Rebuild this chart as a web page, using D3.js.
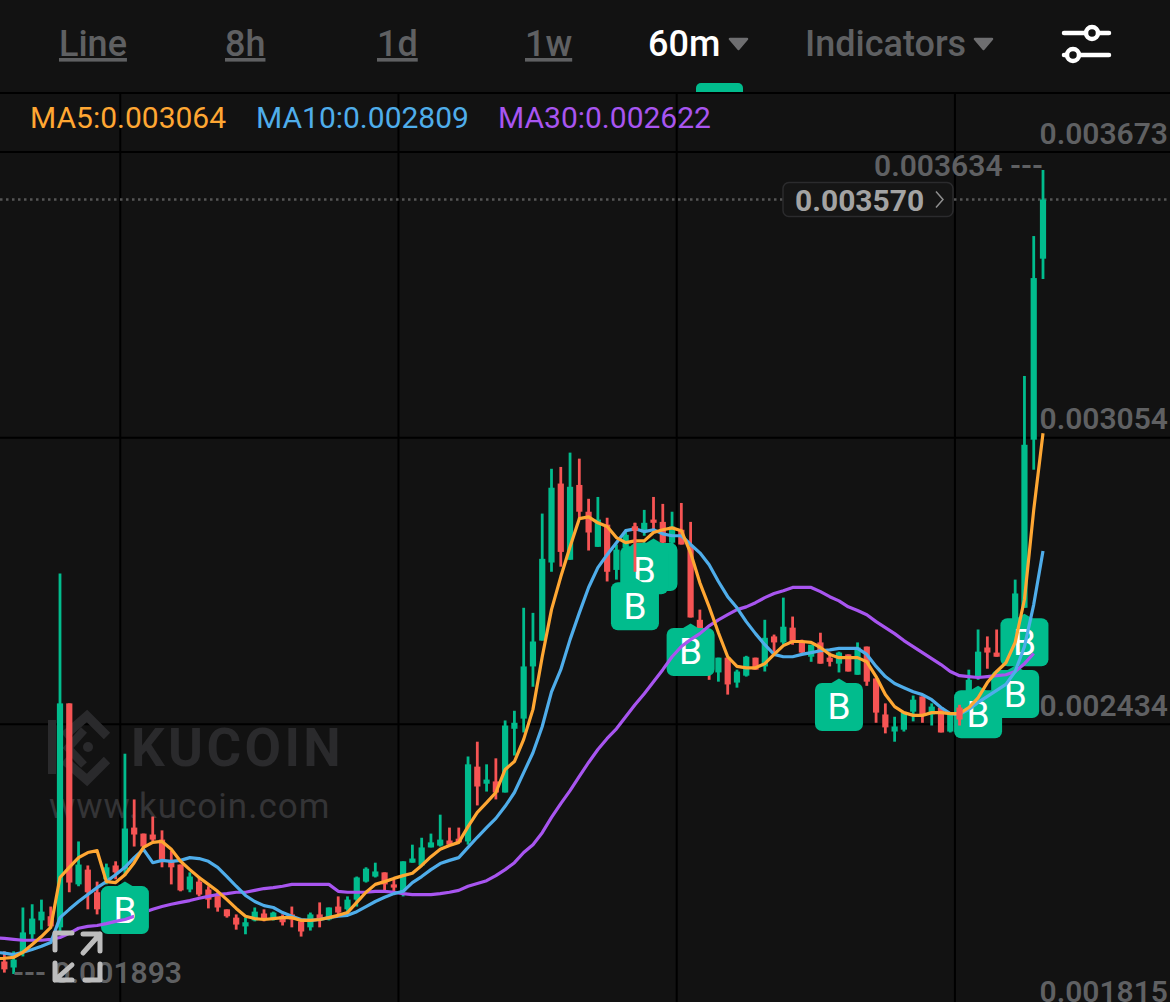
<!DOCTYPE html>
<html lang="en">
<head>
  <meta charset="UTF-8">
  <title>KuCoin 60m chart</title>
  <script src="https://d3js.org/d3.v7.min.js"></script>
  <style>
    html, body { margin: 0; padding: 0; background: #121212; }
    svg { display: block; font-family: Roboto, sans-serif; }
    .domain { display: none; }
  </style>
</head>
<body>
  <div id="chart"></div>
  <script>
    // prices are in millionths, 2434 = 0.002434
    const opens = [1920,1907,1939,1979,2009,2018,1994,2479,2087,2119,2070,2098,2128,2119,2210,2197,2195,2184,2137,2130,2076,2093,2076,2065,2033,2015,1996,2009,2024,2013,2018,2022,2007,1994,2022,2011,2039,2033,2054,2093,2104,2113,2087,2072,2134,2128,2167,2171,2182,2186,2180,2342,2305,2310,2286,2424,2446,2559,2615,2784,2955,2790,2952,2894,2818,2866,2768,2816,2862,2849,2877,2872,2827,2855,2818,2660,2595,2546,2578,2524,2539,2578,2559,2624,2611,2643,2613,2580,2611,2578,2565,2585,2541,2602,2533,2455,2418,2422,2461,2494,2455,2470,2418,2470,2487,2537,2600,2589,2595,2617,2686,3050,3442];
    const highs = [1942,1942,2037,2044,2054,2039,2760,2479,2180,2128,2093,2132,2137,2370,2271,2197,2234,2204,2160,2130,2113,2104,2083,2070,2033,2022,2015,2037,2033,2028,2022,2039,2007,2026,2048,2037,2061,2061,2104,2124,2134,2113,2098,2137,2173,2188,2197,2238,2210,2210,2364,2396,2347,2360,2442,2463,2686,2675,2890,2987,2991,3022,3009,2922,2926,2881,2823,2855,2870,2898,2926,2911,2894,2913,2872,2682,2617,2578,2578,2552,2582,2578,2660,2628,2708,2667,2617,2606,2632,2589,2591,2585,2611,2602,2533,2479,2450,2459,2496,2494,2479,2470,2459,2476,2552,2639,2624,2639,2656,2747,3188,3491,3634];
    const lows = [1896,1893,1931,1968,1989,1992,1985,2070,2083,2033,2022,2087,2098,2106,2169,2163,2180,2124,2087,2072,2070,2061,2035,2028,2015,1989,1979,2007,2007,2009,1998,1994,1974,1987,1994,2009,2018,2022,2039,2091,2102,2072,2070,2061,2134,2126,2167,2169,2171,2178,2173,2258,2288,2271,2286,2366,2416,2515,2615,2764,2775,2790,2877,2810,2818,2743,2747,2790,2764,2842,2849,2818,2823,2823,2665,2574,2530,2526,2498,2513,2537,2552,2548,2585,2606,2606,2587,2569,2565,2559,2546,2548,2541,2517,2437,2414,2396,2418,2440,2437,2431,2416,2416,2431,2476,2530,2554,2580,2574,2574,2686,2985,3398];
    const closes = [1903,1924,1983,2013,2028,1996,2479,2091,2130,2070,2033,2124,2113,2208,2195,2169,2184,2141,2124,2074,2104,2065,2054,2037,2018,2000,2005,2028,2011,2026,2005,2011,1985,2022,2011,2037,2026,2054,2102,2121,2115,2087,2080,2137,2143,2167,2178,2184,2173,2178,2347,2299,2314,2286,2431,2437,2559,2613,2792,2946,2807,2948,2894,2849,2877,2764,2812,2844,2853,2870,2870,2827,2862,2823,2665,2595,2548,2578,2520,2548,2580,2552,2621,2611,2645,2611,2589,2606,2565,2569,2589,2548,2600,2526,2459,2427,2429,2459,2487,2455,2472,2416,2455,2444,2530,2591,2589,2580,2639,2717,3039,3400,3570];

    // the MA lines start one candle left of the visible ones
    const ma5 = [1926,1927,1929,1940,1957,1974,1994,2102,2124,2145,2156,2160,2093,2091,2108,2134,2167,2178,2180,2163,2137,2119,2102,2087,2072,2054,2035,2018,2013,2011,2013,2015,2015,2009,2009,2011,2015,2020,2026,2048,2070,2087,2093,2100,2106,2111,2128,2147,2163,2171,2178,2212,2243,2264,2286,2336,2353,2401,2466,2580,2682,2753,2818,2879,2883,2870,2862,2838,2827,2831,2831,2849,2855,2859,2853,2805,2740,2688,2632,2580,2559,2556,2556,2565,2585,2604,2613,2613,2611,2600,2585,2578,2578,2578,2569,2537,2498,2472,2459,2453,2453,2459,2459,2457,2457,2470,2491,2524,2548,2567,2611,2704,2898,3064];
    const ma10 = [1940,1938,1935,1940,1946,1953,1961,2015,2033,2050,2065,2080,2093,2108,2124,2145,2163,2134,2139,2137,2139,2145,2143,2137,2124,2104,2083,2063,2050,2041,2037,2026,2018,2011,2009,2011,2015,2018,2020,2028,2039,2050,2059,2067,2072,2091,2104,2119,2132,2139,2145,2167,2189,2210,2230,2256,2286,2329,2372,2429,2504,2552,2617,2675,2730,2773,2801,2827,2853,2857,2851,2855,2846,2842,2842,2823,2805,2779,2743,2710,2686,2656,2630,2606,2585,2580,2580,2585,2589,2593,2595,2598,2598,2598,2585,2559,2537,2522,2513,2504,2498,2487,2470,2457,2455,2466,2481,2494,2507,2520,2548,2602,2693,2809];
    const ma30 = [1971,1970,1968,1966,1966,1966,1968,1972,1981,1992,1996,1998,2002,2007,2011,2018,2026,2033,2039,2044,2048,2052,2057,2061,2065,2067,2070,2070,2074,2078,2080,2083,2087,2087,2087,2087,2087,2072,2070,2070,2070,2072,2072,2070,2067,2065,2065,2065,2067,2070,2074,2083,2089,2095,2106,2119,2134,2156,2173,2199,2232,2262,2290,2321,2351,2379,2403,2424,2450,2476,2500,2526,2552,2580,2602,2617,2630,2647,2660,2671,2682,2688,2697,2708,2717,2723,2730,2730,2730,2721,2710,2701,2688,2680,2671,2656,2643,2630,2615,2602,2589,2576,2563,2548,2539,2537,2535,2537,2539,2541,2548,2565,2587];

    const priceTicks = [3673, 3054, 2434, 1815];
    const priceTickLabels = ["0.003673", "0.003054", "0.002434", "0.001815"];
    const timeGridIdx = [12.5, 42.5, 72.5, 102.5];

    const buyMarkers = [13, 68, 69, 70, 74, 90, 105, 109, 110];
    const candlesOverMarkers = [68, 103];

    const tabLabels = ["Line", "8h", "1d", "1w"];
    const tabStarts = [59, 225, 377, 525];
    const legendLabels = ["MA5:0.003064", "MA10:0.002809", "MA30:0.002622"];
    const legendStarts = [30, 256, 498];
    const lastPrice = 3570;

    const UP = "#01bc8d", DOWN = "#f65454", GREY = "#5f6062", BG = "#121212";
    const W = 1170, H = 1002;
    const maColors = ["#ffa733", "#4fadea", "#a855f0"];

    const x = d3.scaleLinear().domain([0, 112]).range([4.36, 1043]);
    const y = d3.scaleLinear().domain([1815, 3673]).range([1010, 152]);

    const svg = d3.select("#chart").append("svg").attr("width", W).attr("height", H);
    svg.append("rect").attr("width", W).attr("height", H).attr("fill", BG);

    // grid
    const xAxis = svg.append("g")
      .attr("transform", `translate(0,${H})`)
      .call(d3.axisBottom(x).tickValues(timeGridIdx).tickSize(-(H - 93)).tickFormat("").offset(0));
    xAxis.selectAll("line").attr("stroke", "#000").attr("stroke-width", 2);

    svg.append("line").attr("x1", 0).attr("x2", W).attr("y1", 93).attr("y2", 93)
      .attr("stroke", "#000").attr("stroke-width", 2);

    const yAxis = svg.append("g")
      .attr("transform", `translate(${W},0)`)
      .call(d3.axisLeft(y).tickValues(priceTicks).tickSize(W).offset(0)
        .tickFormat((d, i) => priceTickLabels[i]));
    yAxis.selectAll("line").attr("stroke", "#000").attr("stroke-width", 2);
    yAxis.selectAll("text")
      .attr("x", -2).attr("dy", -8.5)
      .attr("text-anchor", "end")
      .attr("fill", GREY)
      .attr("font-family", "Roboto, sans-serif")
      .attr("font-size", 30).attr("font-weight", 600);

    // watermark
    const mark = svg.append("g").attr("fill", "none").attr("stroke", "#2a2a2c").attr("stroke-width", 9);
    mark.append("path").attr("d", "M52 720V774").attr("stroke-width", 8);
    mark.append("path").attr("d", "M64 736L87 716L107 736M107 760L87 780L64 760");
    mark.append("path").attr("d", "M84 730L68 748L84 765").attr("stroke-width", 8);
    mark.append("circle").attr("cx", 88).attr("cy", 747).attr("r", 5).attr("fill", "#2a2a2c").attr("stroke", "none");
    svg.append("text").attr("x", 131).attr("y", 766).text("KUCOIN")
      .attr("font-size", 53).attr("font-weight", 700).attr("letter-spacing", 3.4).attr("fill", "#2a2a2c");
    svg.append("text").attr("x", 49).attr("y", 818).text("www.kucoin.com")
      .attr("font-size", 35).attr("letter-spacing", 1).attr("fill", "#343436");

    // last price dotted line
    svg.append("line").attr("x1", 0).attr("x2", W).attr("y1", y(lastPrice)).attr("y2", y(lastPrice))
      .attr("stroke", "#555").attr("stroke-width", 2.4).attr("stroke-dasharray", "2.5 3.5");

    function drawCandle(g, i) {
      const up = closes[i] >= opens[i];
      const color = up ? UP : DOWN;
      g.append("line")
        .attr("x1", x(i)).attr("x2", x(i))
        .attr("y1", y(highs[i])).attr("y2", y(lows[i]))
        .attr("stroke", color).attr("stroke-width", 2.8);
      const top = y(Math.max(opens[i], closes[i]));
      const bot = y(Math.min(opens[i], closes[i]));
      g.append("rect")
        .attr("x", x(i) - 3.1).attr("width", 6.2)
        .attr("y", top).attr("height", Math.max(bot - top, 1.5))
        .attr("fill", color);
    }

    const candleLayer = svg.append("g");
    opens.forEach((o, i) => drawCandle(candleLayer, i));

    // buy badges, later candles go underneath
    const badgeLayer = svg.append("g");
    buyMarkers.slice().reverse().forEach(i => {
      const b = badgeLayer.append("g")
        .attr("transform", `translate(${x(i)},${y(lows[i]) + 6})`);
      b.append("path").attr("d", "M0 0L10 6H-10Z").attr("fill", UP);
      b.append("rect").attr("x", -24).attr("y", 4.5).attr("width", 48).attr("height", 48)
        .attr("rx", 7).attr("fill", UP);
      b.append("text").attr("y", 41).attr("text-anchor", "middle")
        .attr("font-size", 37).attr("fill", "#fff").text("B");
    });

    // MA30 runs behind the right edge of the first badge
    const clip = svg.append("clipPath").attr("id", "ma30clip");
    clip.append("rect").attr("x", 0).attr("y", 0).attr("width", x(13) + 9).attr("height", H);
    clip.append("rect").attr("x", x(13) + 24).attr("y", 0).attr("width", W).attr("height", H);

    const line = d3.line().x((d, i) => x(i - 1)).y(d => y(d));
    [ma30, ma10, ma5].forEach((s, k) => {
      const path = svg.append("path")
        .attr("d", line(s))
        .attr("fill", "none")
        .attr("stroke", maColors[2 - k])
        .attr("stroke-width", 3.2)
        .attr("stroke-linejoin", "round");
      if (k === 0) path.attr("clip-path", "url(#ma30clip)");
    });

    const overLayer = svg.append("g");
    candlesOverMarkers.forEach(i => drawCandle(overLayer, i));

    // high / low labels
    svg.append("text").attr("x", 1043).attr("y", y(highs[112]) + 6).attr("text-anchor", "end")
      .attr("font-size", 30).attr("font-weight", 600).attr("fill", GREY)
      .text("0.003634 ---");
    svg.append("text").attr("x", 13).attr("y", y(d3.min(lows)) + 9)
      .attr("font-size", 30).attr("font-weight", 600).attr("fill", GREY)
      .text("--- 0.001893");

    // last price tag
    const ty = y(lastPrice);
    svg.append("rect").attr("x", 783).attr("y", ty - 17).attr("width", 170).attr("height", 34)
      .attr("rx", 6).attr("fill", "#151515").attr("stroke", "#2b2b2d").attr("stroke-width", 1.5);
    svg.append("text").attr("x", 795).attr("y", ty + 11)
      .attr("font-size", 30).attr("font-weight", 700).attr("fill", "#a3a3a3").text("0.003570");
    svg.append("path").attr("d", `M936 ${ty - 8}L943 ${ty}L936 ${ty + 8}`)
      .attr("fill", "none").attr("stroke", "#8f8f8f").attr("stroke-width", 1.5);

    // fullscreen icon
    svg.append("path")
      .attr("d", "M72 933H55V950M83 934H100V951M100 934L83 953M55 963V980H72M55 980L72 965M85 980H100V964")
      .attr("fill", "none").attr("stroke", "#bdbdbd").attr("stroke-width", 5)
      .attr("stroke-linecap", "round").attr("stroke-linejoin", "round");

    // top bar
    tabLabels.forEach((t, i) => {
      svg.append("text").attr("x", tabStarts[i]).attr("y", 56)
        .attr("font-size", 36).attr("font-weight", 500).attr("fill", GREY)
        .attr("text-decoration", "underline").text(t);
    });
    svg.append("text").attr("x", 648).attr("y", 56).attr("font-size", 36).attr("font-weight", 500)
      .attr("fill", "#fff").text("60m");
    svg.append("text").attr("x", 805).attr("y", 56).attr("font-size", 36).attr("font-weight", 500)
      .attr("fill", GREY).text("Indicators");
    svg.append("path").attr("d", "M730 39H747L738.5 49Z M975 39H992L983.5 49Z")
      .attr("fill", "#6e6e70").attr("stroke", "#6e6e70").attr("stroke-width", 2.5).attr("stroke-linejoin", "round");
    svg.append("path").attr("d", "M696 92V88A5 5 0 0 1 701 83H738A5 5 0 0 1 743 88V92Z").attr("fill", UP);

    // settings icon
    const gear = svg.append("g").attr("stroke", "#fff").attr("stroke-width", 4.5).attr("stroke-linecap", "round");
    gear.append("path").attr("d", "M1064 33H1109M1064 55H1109");
    gear.append("circle").attr("cx", 1092).attr("cy", 33).attr("r", 6).attr("fill", BG);
    gear.append("circle").attr("cx", 1073).attr("cy", 55).attr("r", 6).attr("fill", BG);

    // legend
    legendLabels.forEach((t, i) => {
      svg.append("text").attr("x", legendStarts[i]).attr("y", 128)
        .attr("font-size", 30).attr("fill", maColors[i]).text(t);
    });
  </script>
</body>
</html>
